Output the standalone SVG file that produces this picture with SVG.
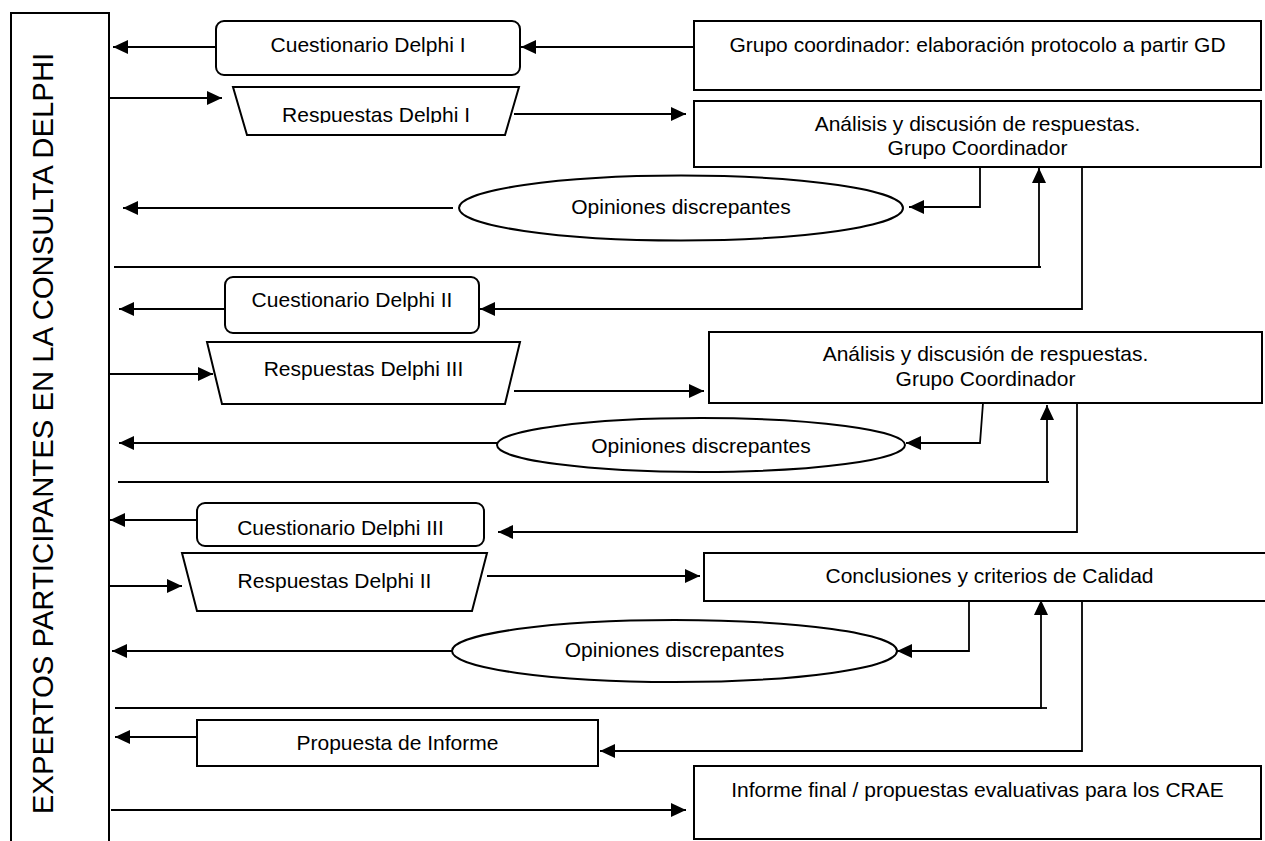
<svg xmlns="http://www.w3.org/2000/svg" width="1265" height="841" viewBox="0 0 1265 841">
  <style>
    .box { fill: #fff; stroke: #000; stroke-width: 2; }
    .lbl { font-family: "Liberation Sans", Arial, sans-serif; font-size: 21px; fill: #000; text-anchor: middle; }
    .side { font-family: "Liberation Sans", Arial, sans-serif; font-size: 29.3px; fill: #000; text-anchor: middle; }
    .wire { fill: none; stroke: #000; stroke-width: 1.8; }
    .arr { marker-end: url(#ah); }
  </style>
  <defs>
    <marker id="ah" markerWidth="16" markerHeight="14" refX="15" refY="7" orient="auto" markerUnits="userSpaceOnUse">
      <path d="M0,0 L15,7 L0,14 z" fill="#000"/>
    </marker>
    <clipPath id="clipR1"><rect x="233" y="87" width="286" height="36"/></clipPath>
    <clipPath id="clipC3"><rect x="197" y="503" width="287" height="34"/></clipPath>
  </defs>
  <rect width="1265" height="841" fill="#fff"/>

  <!-- participants column -->
  <g id="expertos">
    <rect class="box" x="11" y="13" width="98" height="840"/>
    <text class="side" transform="translate(52.7,433.5) rotate(-90)">EXPERTOS PARTICIPANTES EN LA CONSULTA DELPHI</text>
  </g>

  <!-- round 1 -->
  <g id="cuestionario1">
    <rect class="box" x="216" y="21" width="304" height="54" rx="8"/>
    <text class="lbl" x="368" y="52">Cuestionario Delphi I</text>
  </g>
  <g id="grupo-coordinador">
    <rect class="box" x="694" y="21" width="567" height="69"/>
    <text class="lbl" x="977.5" y="52">Grupo coordinador: elaboración protocolo a partir GD</text>
  </g>
  <g id="respuestas1">
    <polygon class="box" points="233,87 519,87 505,135 247,135"/>
    <text class="lbl" x="376" y="122" clip-path="url(#clipR1)">Respuestas Delphi I</text>
  </g>
  <g id="analisis1">
    <rect class="box" x="694" y="101" width="567" height="66"/>
    <text class="lbl" x="977.5" y="131">Análisis y discusión de respuestas.</text>
    <text class="lbl" x="977.5" y="155">Grupo Coordinador</text>
  </g>
  <g id="opiniones1">
    <ellipse class="box" cx="681" cy="208" rx="222" ry="32.5"/>
    <text class="lbl" x="681" y="213.5">Opiniones discrepantes</text>
  </g>

  <!-- round 2 -->
  <g id="cuestionario2">
    <rect class="box" x="225" y="277" width="254" height="56" rx="8"/>
    <text class="lbl" x="352" y="307">Cuestionario Delphi II</text>
  </g>
  <g id="respuestas3">
    <polygon class="box" points="207,342 520,342 505,404 222,404"/>
    <text class="lbl" x="363.5" y="376">Respuestas Delphi III</text>
  </g>
  <g id="analisis2">
    <rect class="box" x="709" y="332" width="553" height="71"/>
    <text class="lbl" x="985.5" y="361">Análisis y discusión de respuestas.</text>
    <text class="lbl" x="985.5" y="386">Grupo Coordinador</text>
  </g>
  <g id="opiniones2">
    <ellipse class="box" cx="701" cy="445" rx="204" ry="27"/>
    <text class="lbl" x="701" y="453">Opiniones discrepantes</text>
  </g>

  <!-- round 3 -->
  <g id="cuestionario3">
    <rect class="box" x="197" y="503" width="287" height="43" rx="8"/>
    <text class="lbl" x="340.5" y="535" clip-path="url(#clipC3)">Cuestionario Delphi III</text>
  </g>
  <g id="respuestas2">
    <polygon class="box" points="182,553 487,553 472,611 197,611"/>
    <text class="lbl" x="334.5" y="588">Respuestas Delphi II</text>
  </g>
  <g id="conclusiones">
    <rect class="box" x="704" y="553" width="571" height="48"/>
    <text class="lbl" x="989.5" y="583">Conclusiones y criterios de Calidad</text>
  </g>
  <g id="opiniones3">
    <ellipse class="box" cx="674.5" cy="651" rx="222.5" ry="31"/>
    <text class="lbl" x="674.5" y="657">Opiniones discrepantes</text>
  </g>

  <!-- report -->
  <g id="propuesta">
    <rect class="box" x="197" y="720" width="401" height="46"/>
    <text class="lbl" x="397.5" y="750">Propuesta de Informe</text>
  </g>
  <g id="informe-final">
    <rect class="box" x="694" y="766" width="567" height="73"/>
    <text class="lbl" x="977.5" y="797">Informe final / propuestas evaluativas para los CRAE</text>
  </g>

  <!-- connectors -->
  <g id="connectors">
    <path class="wire arr" d="M694,47 H521"/>
    <path class="wire arr" d="M216,47 H113"/>
    <path class="wire arr" d="M109,98 H222"/>
    <path class="wire arr" d="M514,114 H686"/>
    <path class="wire arr" d="M453,208 H123"/>
    <path class="wire arr" d="M980,167 V207 H909"/>
    <path class="wire" d="M1039,267 H1041"/>
    <path class="wire arr" d="M114,267 H1039 V168"/>
    <path class="wire arr" d="M1082,167 V309 H480"/>
    <path class="wire arr" d="M225,309 H119"/>

    <path class="wire arr" d="M109,374 H213"/>
    <path class="wire arr" d="M514,391 H704"/>
    <path class="wire arr" d="M497,443 H119"/>
    <path class="wire arr" d="M983,403 L980,443 H906"/>
    <path class="wire" d="M1047,482 H1049"/>
    <path class="wire arr" d="M118,482 H1047 V405"/>
    <path class="wire arr" d="M1077,403 V532 H498"/>
    <path class="wire arr" d="M197,520 H110"/>

    <path class="wire arr" d="M109,586 H182"/>
    <path class="wire arr" d="M487,576 H700"/>
    <path class="wire arr" d="M452,651 H112"/>
    <path class="wire arr" d="M969,601 V651 H897"/>
    <path class="wire" d="M1041,708 H1047"/>
    <path class="wire arr" d="M115,708 H1041 V600"/>
    <path class="wire arr" d="M1082,601 V751 H600"/>
    <path class="wire arr" d="M197,737 H115"/>
    <path class="wire arr" d="M111,810 H686"/>
  </g>
</svg>
